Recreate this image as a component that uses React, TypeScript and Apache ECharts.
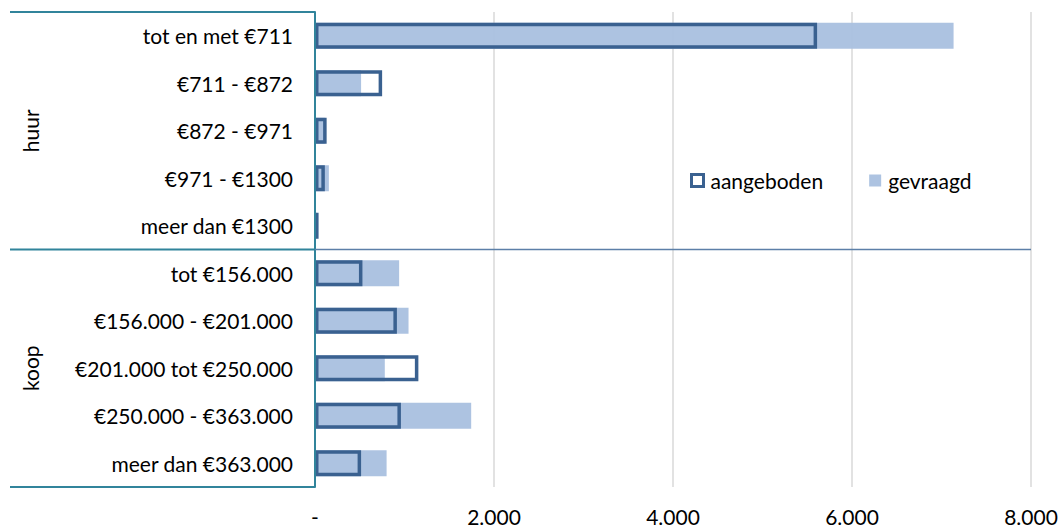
import React, { useEffect, useRef } from "react";
import * as echarts from "echarts";

// Woningvraag en -aanbod per prijsklasse
const categories = [
  "tot en met €711",
  "€711 - €872",
  "€872 - €971",
  "€971 - €1300",
  "meer dan €1300",
  "tot €156.000",
  "€156.000 - €201.000",
  "€201.000 tot €250.000",
  "€250.000 - €363.000",
  "meer dan €363.000",
];
const groups = ["huur", "koop"];
const groupSizes = [5, 5];
const aangeboden = [5610, 750, 130, 110, 40, 530, 915, 1155, 960, 515];
const gevraagd = [7135, 515, 110, 155, 20, 940, 1045, 780, 1745, 800];
const xTicks = [0, 2000, 4000, 6000, 8000];

const W = 1062;
const H = 529;
const GRID = { left: 315, right: 31, top: 12, bottom: 42 };
const FONT = "Lato, 'Open Sans', sans-serif";
const FS = 21;
const TEAL = "#31849B";
const DARK = "#3A6190";
const LIGHT = "#A9C0DF";

function fmt(v: number) {
  if (v === 0) return "-";
  return String(v).replace(/\B(?=(\d{3})+(?!\d))/g, ".");
}

export default function App() {
  const ref = useRef<HTMLDivElement>(null);
  useEffect(() => {
    document.body.style.margin = "0";
    const chart = echarts.init(ref.current!, null, { renderer: "svg" });

    const plotTop = GRID.top;
    const plotBottom = H - GRID.bottom;
    const plotRight = W - GRID.right;
    const band = (plotBottom - plotTop) / categories.length;
    const boxLeft = 10;

    const graphic: any[] = [];
    const lineStyle = (c: string) => ({ stroke: c, lineWidth: 2 });
    graphic.push({
      type: "line",
      shape: { x1: boxLeft, y1: plotTop, x2: GRID.left, y2: plotTop },
      style: lineStyle(TEAL),
      z: 10,
    });
    graphic.push({
      type: "line",
      shape: { x1: boxLeft, y1: plotBottom, x2: GRID.left, y2: plotBottom },
      style: lineStyle(TEAL),
      z: 10,
    });
    let start = 0;
    groups.forEach((g, i) => {
      const n = groupSizes[i];
      const yc = plotTop + (start + n / 2) * band;
      graphic.push({
        type: "text",
        x: 30,
        y: yc,
        rotation: Math.PI / 2,
        style: {
          text: g,
          font: `${FS}px ${FONT}`,
          fill: "#000",
          align: "center",
          verticalAlign: "middle",
        },
      });
      start += n;
      if (i < groups.length - 1) {
        const ys = plotTop + start * band;
        graphic.push({
          type: "line",
          shape: { x1: boxLeft, y1: ys, x2: GRID.left, y2: ys },
          style: lineStyle(TEAL),
          z: 10,
        });
        graphic.push({
          type: "line",
          shape: { x1: GRID.left, y1: ys, x2: plotRight, y2: ys },
          style: { stroke: "#5C7FA8", lineWidth: 1.5 },
          z: 10,
        });
      }
    });

    chart.setOption({
      animation: false,
      textStyle: { fontFamily: FONT },
      grid: { ...GRID, containLabel: false },
      legend: {
        left: 690,
        top: 170,
        padding: 0,
        icon: "rect",
        itemWidth: 12,
        itemHeight: 12,
        itemGap: 46,
        textStyle: {
          fontSize: FS,
          color: "#000",
          fontFamily: FONT,
          padding: [0, 0, 0, 2],
        },
        data: [
          {
            name: "aangeboden",
            itemStyle: { color: "#fff", borderColor: DARK, borderWidth: 3 },
          },
          { name: "gevraagd", itemStyle: { color: LIGHT } },
        ],
      },
      xAxis: {
        type: "value",
        min: xTicks[0],
        max: xTicks[xTicks.length - 1],
        interval: xTicks[1] - xTicks[0],
        axisLine: { show: false },
        axisTick: { show: false },
        splitLine: { lineStyle: { color: "#D9D9D9", width: 1.5 } },
        axisLabel: {
          formatter: (v: number) => fmt(v),
          fontSize: FS,
          color: "#000",
          margin: 19,
          fontFamily: FONT,
        },
      },
      yAxis: {
        type: "category",
        inverse: true,
        data: categories,
        axisLine: { show: true, lineStyle: { color: TEAL, width: 2 } },
        axisTick: { show: false },
        axisLabel: { fontSize: FS, color: "#000", margin: 22, fontFamily: FONT },
        z: 5,
      },
      series: [
        {
          name: "gevraagd",
          type: "bar",
          data: gevraagd,
          barWidth: 26,
          itemStyle: { color: LIGHT, opacity: 0.95 },
          z: 2,
        },
        {
          name: "aangeboden",
          type: "bar",
          data: aangeboden,
          barWidth: 26,
          barGap: "-100%",
          itemStyle: { color: "transparent", borderColor: DARK, borderWidth: 3.5 },
          z: 3,
        },
      ],
      graphic,
    });
    return () => chart.dispose();
  }, []);
  return <div ref={ref} style={{ width: W, height: H }} />;
}
